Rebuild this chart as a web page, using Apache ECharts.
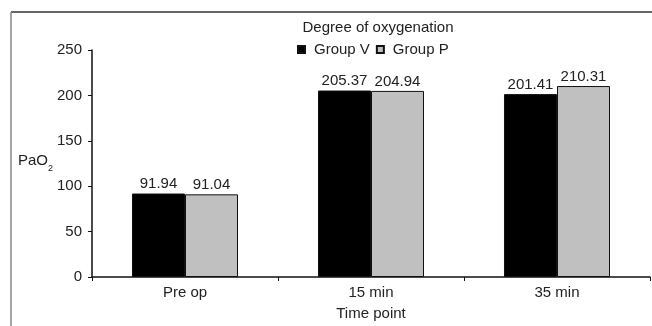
<!DOCTYPE html>
<html><head><meta charset="utf-8">
<script src="https://cdn.jsdelivr.net/npm/echarts@6/dist/echarts.min.js"></script>
<style>html,body{margin:0;padding:0;background:#fff}#c{width:652px;height:326px}</style>
</head><body><div id="c"></div>
<script>
const categories = ['Pre op', '15 min', '35 min'];
const groupV = [91.94, 205.37, 201.41];
const groupP = [91.04, 204.94, 210.31];
const yTicks = [0, 50, 100, 150, 200, 250];

const chart = echarts.init(document.getElementById('c'), null, {renderer: 'canvas'});
const font = 'Liberation Sans, Arial, sans-serif';
const fs = 15;
const lbl = {show: true, position: 'top', distance: 2, color: '#222', fontSize: fs, fontFamily: font,
  formatter: p => p.value.toFixed(2)};
chart.setOption({
  animation: false,
  textStyle: {fontFamily: font},
  title: {text: 'Degree of oxygenation', left: 373, textAlign: 'center', top: 15,
    textStyle: {fontSize: fs, fontWeight: 'normal', color: '#222', fontFamily: font}},
  legend: {data: ['Group V', 'Group P'], left: 297, top: 42, itemWidth: 7, itemHeight: 7, itemGap: 6,
    padding: 0, textStyle: {fontSize: fs, color: '#222', fontFamily: font, padding: [0, 0, 0, 4]}, icon: 'rect'},
  grid: {left: 92, right: 2, top: 50, bottom: 44},
  xAxis: {type: 'category', data: categories, name: 'Time point', nameLocation: 'middle', nameGap: 29,
    nameTextStyle: {fontSize: fs, color: '#222', fontFamily: font},
    axisLine: {lineStyle: {color: '#111', width: 1.5}},
    axisTick: {show: true, length: 4, lineStyle: {color: '#111'}},
    axisLabel: {fontSize: fs, color: '#222', margin: 8, fontFamily: font}},
  yAxis: {type: 'value', min: 0, max: 250, interval: 50, splitLine: {show: false},
    axisLine: {show: true, lineStyle: {color: '#111', width: 1.5}},
    axisTick: {show: true, length: 4, lineStyle: {color: '#111'}},
    axisLabel: {fontSize: fs, color: '#222', margin: 10, fontFamily: font,
      formatter: v => yTicks.includes(v) ? String(v) : ''}},
  series: [
    {name: 'Group V', type: 'bar', data: groupV, barGap: '0%', barCategoryGap: '43%',
      itemStyle: {color: '#000', borderColor: '#111', borderWidth: 1}, label: lbl},
    {name: 'Group P', type: 'bar', data: groupP,
      itemStyle: {color: '#c0c0c0', borderColor: '#111', borderWidth: 1}, label: lbl}
  ],
  graphic: [
    {type: 'line', shape: {x1: 11, y1: 12, x2: 652, y2: 12}, style: {stroke: '#333', lineWidth: 1.5}},
    {type: 'line', shape: {x1: 11, y1: 12, x2: 11, y2: 326}, style: {stroke: '#888', lineWidth: 1.5}},
    {type: 'text', left: 18, top: 153, style: {text: 'PaO', font: fs + 'px ' + font, fill: '#222'}},
    {type: 'text', left: 48, top: 164, style: {text: '2', font: '9px ' + font, fill: '#222'}}
  ]
});
</script></body></html>
